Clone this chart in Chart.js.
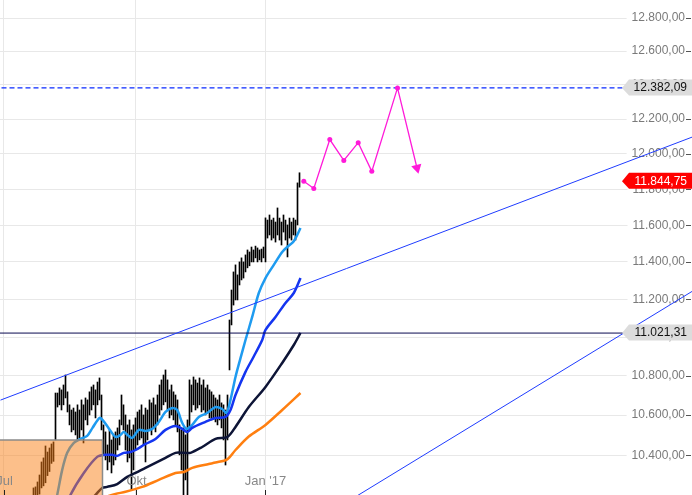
<!DOCTYPE html>
<html>
<head>
<meta charset="utf-8">
<script src="https://cdn.jsdelivr.net/npm/chart.js@4.4.1/dist/chart.umd.min.js"></script>
<style>
  html, body { margin: 0; padding: 0; background: #fff; overflow: hidden; }
  #wrap { width: 692px; height: 495px; }
</style>
</head>
<body>
<div id="wrap"><canvas id="chart"></canvas></div>
<script>
// x values are trading-day numbers counted from 1 Jul 2016
const monthTicks = [0, 66, 130.75];
const monthLabels = ['Jul', 'Okt', "Jan '17"];
const priceTicks = [10400, 10600, 10800, 11000, 11200, 11400, 11600, 11800, 12000, 12200, 12400, 12600, 12800];

// daily bars (low / high), first bar is day 15
const firstBar = 15;
const barLow = [
  10150, 10170, 10190, 10210, 10240, 10250, 10265, 10300, 10320, 10360, 10370,
  10476, 10641, 10652, 10626, 10652, 10687, 10616, 10551, 10516, 10526, 10501,
  10476, 10486, 10526, 10461, 10576, 10551, 10601, 10626, 10652, 10586, 10652,
  10677, 10526, 10402, 10377, 10328, 10367, 10313, 10352, 10377, 10426, 10451,
  10551, 10526, 10426, 10367, 10387, 10230, 10328, 10426, 10451, 10476, 10486,
  10451, 10367, 10476, 10526, 10501, 10536, 10516, 10551, 10601, 10626, 10652,
  10667, 10626, 10586, 10601, 10576, 10551, 10516, 10402, 10328, 10180, 10279,
  10080, 10526, 10616, 10652, 10626, 10636, 10652, 10616, 10626, 10601, 10616,
  10586, 10576, 10586, 10566, 10551, 10576, 10536, 10476, 10352, 10476, 10830,
  11064, 11169, 11196, 11196, 11276, 11303, 11313, 11346, 11368, 11379, 11400,
  11400, 11422, 11400, 11411, 11400, 11422, 11400, 11530, 11547, 11519, 11530,
  11508, 11547, 11519, 11492, 11563, 11519, 11427, 11530, 11519, 11547, 11519,
  11602, 11812
];
const barHigh = [
  10240, 10245, 10269, 10303, 10367, 10387, 10446, 10416, 10436, 10456, 10466,
  10712, 10712, 10738, 10728, 10753, 10804, 10718, 10652, 10626, 10636, 10616,
  10652, 10626, 10677, 10652, 10687, 10677, 10718, 10743, 10753, 10728, 10768,
  10789, 10702, 10551, 10516, 10451, 10526, 10476, 10501, 10516, 10536, 10576,
  10702, 10652, 10601, 10551, 10576, 10526, 10551, 10586, 10616, 10626, 10652,
  10601, 10636, 10626, 10677, 10662, 10687, 10652, 10702, 10753, 10779, 10804,
  10830, 10779, 10728, 10753, 10718, 10702, 10677, 10551, 10526, 10536, 10501,
  10576, 10779, 10753, 10794, 10779, 10763, 10789, 10753, 10779, 10738, 10753,
  10728, 10718, 10702, 10687, 10677, 10702, 10662, 10652, 10626, 10702, 11090,
  11249, 11346, 11384, 11330, 11400, 11422, 11400, 11438, 11465, 11454, 11481,
  11465, 11486, 11476, 11465, 11470, 11481, 11641, 11629, 11657, 11629, 11640,
  11618, 11696, 11640, 11618, 11657, 11629, 11602, 11640, 11618, 11640, 11629,
  11836, 11893
];

// moving averages, sampled along each curve
const ma1Days = [24.5, 26.85, 29.35, 31.85, 35.15, 38.5, 41.85, 44.5, 48, 49.5, 52.5, 56, 58.5, 60.15, 62, 64.35, 67.65, 71, 74.35, 77.65, 81, 84.35, 86.85, 89.35, 91.5, 94.35, 97.65, 101.85, 106, 109.35, 111.5, 113.5, 116, 118.5, 121, 124.35, 127.65, 131, 135.15, 139.35, 141.85, 145.15, 148.5];
const ma1 = [10109, 10206, 10328, 10412, 10461, 10481, 10496, 10536, 10586, 10576, 10536, 10491, 10501, 10516, 10501, 10486, 10526, 10521, 10531, 10566, 10616, 10636, 10626, 10561, 10531, 10551, 10591, 10611, 10641, 10631, 10611, 10677, 10794, 10891, 10985, 11106, 11233, 11313, 11384, 11454, 11481, 11513, 11585];

const ma2Days = [28.5, 33.5, 40.15, 46.85, 51, 54.35, 56.85, 60.15, 63.5, 66, 71, 76, 81, 86, 89.35, 91.85, 94.35, 101, 106, 111, 113.5, 116, 121, 125, 129.35, 131, 136, 141, 145.15, 148.5];
const ma2 = [10085, 10206, 10313, 10392, 10402, 10402, 10397, 10412, 10416, 10426, 10456, 10481, 10526, 10546, 10531, 10516, 10536, 10566, 10586, 10591, 10626, 10702, 10820, 10897, 10985, 11038, 11106, 11180, 11233, 11313];

const ma3Days = [41, 46, 49.35, 51.85, 56.85, 61.85, 66, 71, 76, 81, 86, 90.15, 93.5, 99.35, 106, 112, 116, 122.65, 131, 139.35, 145.15, 148.5];
const ma3 = [10158, 10206, 10240, 10245, 10259, 10294, 10313, 10338, 10362, 10387, 10412, 10412, 10412, 10441, 10481, 10491, 10541, 10641, 10743, 10866, 10959, 11022];

const ma4Days = [51, 56, 61, 69.35, 77.65, 86, 90.15, 94.35, 102.65, 106, 111.85, 116, 122.65, 131, 139.35, 148.5];
const ma4 = [10196, 10211, 10221, 10245, 10279, 10313, 10318, 10338, 10357, 10364, 10380, 10426, 10493, 10551, 10626, 10712];

// forecast path
const forecastDays = [150.15, 155.15, 163.15, 170.15, 177.35, 184.15, 197, 206.75];
const forecast = [11845, 11805, 12082, 11963, 12064, 11901, 12382.09, 11920];

// trend lines and levels
const trendUpperDays = [-1.5, 344.5];
const trendUpper = [10676, 12097];
const trendLowerDays = [175, 344.5];
const trendLower = [10191, 11243];
const lastPrice = 11844.75;
const targetLevel = 12382.09;
const supportLevel = 11021.31;

// shaded range box
const boxDays = [-5, 49.5, 49.5];
const boxLevels = [10476, 10476, 10100];

function fmt(v) {
  const parts = v.toFixed(2).split('.');
  return parts[0].replace(/\B(?=(\d{3})+(?!\d))/g, '.') + ',' + parts[1];
}
function pts(xs, ys) {
  return xs.map((x, i) => ({ x: x, y: ys[i] }));
}
function noPad(s) {
  s.paddingLeft = 0; s.paddingRight = 0; s.paddingTop = 0; s.paddingBottom = 0;
}

const bars = barLow.map((lo, i) => ({ x: firstBar + i, y: [lo, barHigh[i]] }));

const maStyle = (color) => ({
  type: 'line', borderColor: color, borderWidth: 2.5, pointRadius: 0, tension: 0.3, fill: false, order: 5
});

const overlay = {
  id: 'overlay',
  afterDraw(chart) {
    const ctx = chart.ctx, ys = chart.scales.y, xs = chart.scales.x;
    const area = chart.chartArea;
    ctx.save();
    ctx.strokeStyle = '#555';
    ctx.lineWidth = 1;
    ys.ticks.forEach(t => {
      const py = Math.round(ys.getPixelForValue(t.value)) + 0.5;
      ctx.beginPath(); ctx.moveTo(area.right - 6, py); ctx.lineTo(area.right - 1, py); ctx.stroke();
    });
    ctx.strokeStyle = '#222';
    ctx.fillStyle = '#888';
    ctx.font = '13px "Liberation Sans", Arial, sans-serif';
    ctx.textAlign = 'center';
    ctx.textBaseline = 'middle';
    monthTicks.forEach((v, i) => {
      const px = Math.round(xs.getPixelForValue(v)) + 0.5;
      ctx.beginPath(); ctx.moveTo(px, area.bottom - 5); ctx.lineTo(px, area.bottom); ctx.stroke();
      ctx.fillText(monthLabels[i], px, area.bottom - 14);
    });
    function tag(value, bg, fg) {
      const py = ys.getPixelForValue(value);
      const r = area.right, l = r - 63;
      ctx.fillStyle = bg;
      ctx.beginPath();
      ctx.moveTo(l - 7, py);
      ctx.lineTo(l, py - 8.5);
      ctx.lineTo(r, py - 8.5);
      ctx.lineTo(r, py + 7.5);
      ctx.lineTo(l, py + 7.5);
      ctx.closePath();
      ctx.fill();
      ctx.fillStyle = fg;
      ctx.font = '12px "Liberation Sans", Arial, sans-serif';
      ctx.textAlign = 'right';
      ctx.textBaseline = 'middle';
      ctx.fillText(fmt(value), r - 5, py);
    }
    tag(targetLevel, '#dcdcdc', '#111');
    tag(supportLevel, '#dcdcdc', '#111');
    tag(lastPrice, '#ff0000', '#fff');
    ctx.restore();
  }
};

new Chart(document.getElementById('chart'), {
  type: 'line',
  data: {
    datasets: [
      {
        type: 'line', data: pts(boxDays, boxLevels), borderColor: '#8a8a8a', borderWidth: 1.5,
        backgroundColor: 'rgba(250,128,22,0.5)', fill: 'start', pointRadius: 0, tension: 0, order: 0
      },
      {
        type: 'line', data: pts(forecastDays, forecast), borderColor: '#ff1ad9', borderWidth: 1.3,
        backgroundColor: '#ff1ad9', pointBackgroundColor: '#ff1ad9', pointBorderWidth: 0,
        pointRadius: [2.5, 2.5, 2.5, 2.5, 2.5, 2.5, 2.5, 6],
        pointStyle: ['circle', 'circle', 'circle', 'circle', 'circle', 'circle', 'circle', 'triangle'],
        rotation: [0, 0, 0, 0, 0, 0, 0, 166], tension: 0, fill: false, order: 1
      },
      {
        type: 'line', data: pts(trendUpperDays, trendUpper), borderColor: '#1f3cff', borderWidth: 1,
        pointRadius: 0, fill: false, order: 2
      },
      {
        type: 'line', data: pts(trendLowerDays, trendLower), borderColor: '#1f3cff', borderWidth: 1,
        pointRadius: 0, fill: false, order: 2
      },
      {
        type: 'line', data: pts([-5, 350], [targetLevel, targetLevel]), borderColor: '#0a2aff', borderWidth: 1.2,
        borderDash: [5, 3], pointRadius: 0, fill: false, order: 2
      },
      {
        type: 'line', data: pts([-5, 350], [supportLevel, supportLevel]), borderColor: '#0a0a50', borderWidth: 1,
        pointRadius: 0, fill: false, order: 2
      },
      Object.assign({ data: pts(ma4Days, ma4) }, maStyle('#ff7f10')),
      Object.assign({ data: pts(ma3Days, ma3) }, maStyle('#0d1436')),
      Object.assign({ data: pts(ma2Days, ma2) }, maStyle('#1435f0')),
      Object.assign({ data: pts(ma1Days, ma1) }, maStyle('#1e9bf0')),
      {
        type: 'bar', data: bars, backgroundColor: '#000', borderWidth: 0,
        barThickness: 1, grouped: false, order: 6
      }
    ]
  },
  options: {
    responsive: true,
    maintainAspectRatio: false,
    animation: false,
    layout: { padding: 0, autoPadding: false },
    plugins: { legend: { display: false }, tooltip: { enabled: false } },
    scales: {
      x: {
        type: 'linear', min: -1.75, max: 344.25, offset: false,
        afterFit: s => { s.height = 0; noPad(s); },
        afterBuildTicks: s => { s.ticks = monthTicks.map(v => ({ value: v })); },
        grid: { color: '#e8e8e8', lineWidth: 1, drawTicks: false, offset: false },
        border: { display: false },
        ticks: { display: false }
      },
      y: {
        type: 'logarithmic', position: 'right', min: 10205.6, max: 12909.9,
        afterFit: s => { s.width = 0; noPad(s); },
        afterBuildTicks: s => { s.ticks = priceTicks.map(v => ({ value: v })); },
        grid: { color: '#e8e8e8', lineWidth: 1, drawTicks: false },
        border: { display: false },
        ticks: {
          mirror: true, padding: -7, color: '#7a7a7a',
          font: { family: '"Liberation Sans", Arial, sans-serif', size: 12 },
          showLabelBackdrop: true, backdropColor: '#fff',
          backdropPadding: { left: 5, right: 7, top: 1, bottom: 1 },
          callback: (v) => fmt(v)
        }
      }
    }
  },
  plugins: [overlay]
});
</script>
</body>
</html>
